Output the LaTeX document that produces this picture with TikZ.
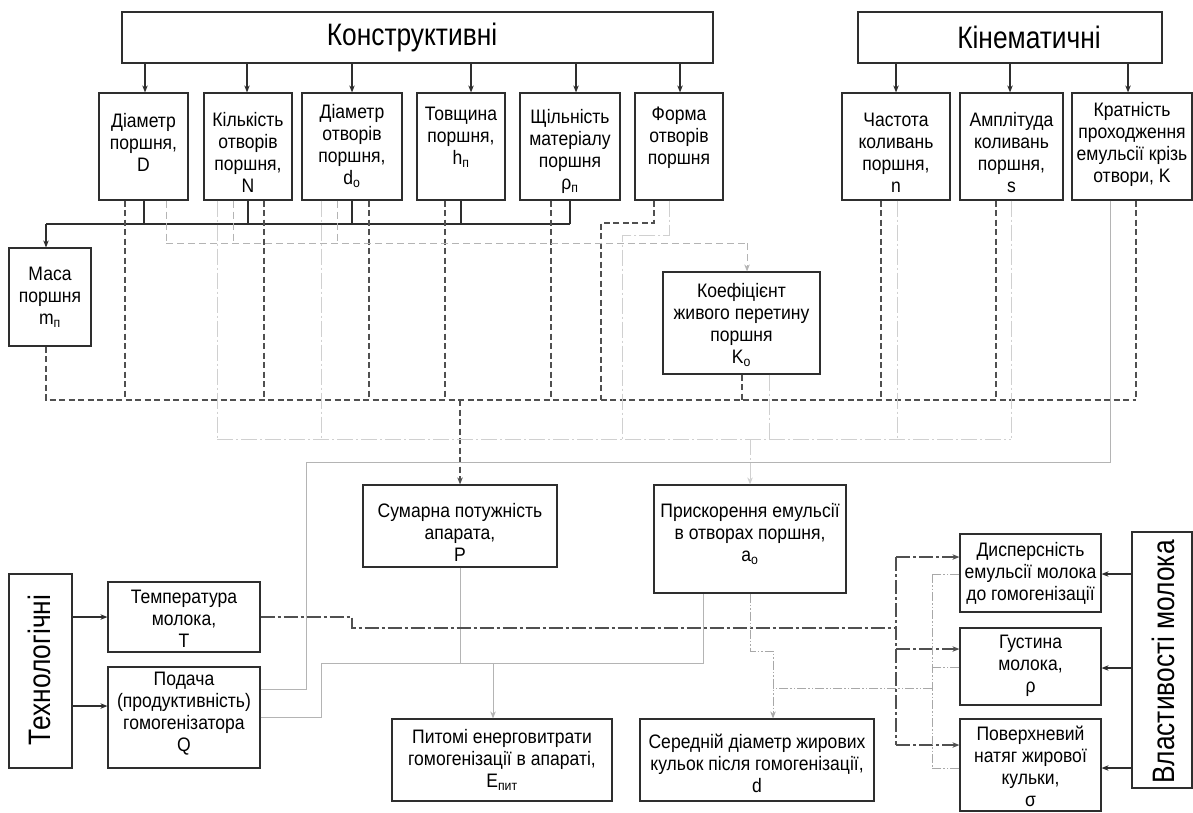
\documentclass[tikz,border=0pt]{standalone}
\usepackage{fontspec}
\setmainfont{Liberation Sans}[FakeStretch=0.85]
\newfontfamily\bodyfam{Liberation Sans}[FakeStretch=0.9]
\usetikzlibrary{arrows.meta,calc}
\definecolor{boxc}{HTML}{2E2E2E}
\definecolor{dashc}{HTML}{505050}
\definecolor{lightc}{HTML}{B4B4B4}
\definecolor{paledc}{HTML}{D0D0D0}
\definecolor{ddc}{HTML}{A8A8A8}
\newcommand{\fBody}{\bodyfam\fontsize{19.5}{22}\selectfont}
\newcommand{\fHead}{\fontsize{31}{34}\selectfont}
\newcommand{\mkbox}[7]{%
 \pgfmathsetmacro{\mbW}{#4-#2}%
 \pgfmathsetmacro{\mbH}{#5-#3}%
 \pgfmathsetmacro{\mbX}{(#2+#4)/2}%
 \pgfmathsetmacro{\mbY}{(#3+#5)/2}%
 \node[box, minimum width=\mbW pt, minimum height=\mbH pt] (#1) at (\mbX,\mbY) {};%
 \node[lbl] (#1t) at (\mbX,#6) {#7};%
}
\tikzset{
 box/.style={draw=boxc, line width=1.2pt, rectangle, inner sep=0pt, fill=white},
 lbl/.style={font=\fBody, align=center, inner sep=0pt, text=black},
 arr/.style={-{Stealth[length=7pt,width=5.5pt]}},
 ln/.style={draw=boxc, line width=1.1pt},
 dashd/.style={draw=dashc, line width=1.4pt, dash pattern=on 6pt off 3.5pt},
 dashl/.style={draw=lightc, line width=0.9pt, dash pattern=on 7pt off 4pt},
 dotl/.style={draw=paledc, line width=0.9pt, dash pattern=on 16pt off 3pt on 2pt off 3pt},
 solidl/.style={draw=lightc, line width=1pt},
 dashdotd/.style={draw=dashc, line width=1.2pt, dash pattern=on 14pt off 3pt on 3pt off 3pt},
 ddotl/.style={draw=ddc, line width=0.8pt, dash pattern=on 9pt off 2pt on 1.5pt off 2pt on 1.5pt off 2pt},
}
\begin{document}
\begin{tikzpicture}[x=1pt,y=-1pt]
\useasboundingbox (0,0) rectangle (1193,812);
\fill[white] (0,0) rectangle (1193,812);

% ---------- coordinates of bus lines ----------
\coordinate (yM) at (0,224);
\coordinate (yP) at (0,400);
\coordinate (yK) at (0,243);
\coordinate (yA) at (0,439);
\coordinate (yF1) at (0,223);
\coordinate (yF2) at (0,235);
\coordinate (xF1) at (601,0);
\coordinate (xF2) at (622,0);
\coordinate (yQ) at (0,462);
\coordinate (xQ1) at (306,0);
\coordinate (xQ2) at (321,0);
\coordinate (yE) at (0,663);
\coordinate (xT) at (352,0);
\coordinate (yT) at (0,628);
\coordinate (xTv) at (896,0);
\coordinate (yd1) at (0,651);
\coordinate (xdv) at (932,0);
\coordinate (yd2) at (0,688);

% ---------- headers ----------
\node[box, minimum width=591pt, minimum height=51pt] (kon) at (417.5,37.5) {};
\node[lbl, font=\fHead] (kont) at (412,37) {Конструктивні};
\node[box, minimum width=304pt, minimum height=51pt] (kin) at (1010,37.5) {};
\node[lbl, font=\fHead] (kint) at (1029,37) {Кінематичні};

% ---------- row 1 ----------
\mkbox{dD}{99}{93}{188}{200}{142}{Діаметр\\поршня,\\D}
\mkbox{nN}{204}{93}{292}{200}{152}{Кількість\\отворів\\поршня,\\N}
\mkbox{dO}{302}{93}{402}{200}{146}{Діаметр\\отворів\\поршня,\\d\textsubscript{о}}
\mkbox{hP}{417}{93}{505}{200}{137}{Товщина\\поршня,\\h\textsubscript{п}}
\mkbox{rho}{520}{93}{620}{200}{151}{Щільність\\матеріалу\\поршня\\ρ\textsubscript{п}}
\mkbox{form}{635}{93}{723}{200}{138}{Форма\\отворів\\поршня}
\mkbox{freq}{842}{93}{950}{200}{153}{Частота\\коливань\\поршня,\\n}
\mkbox{amp}{960}{93}{1063}{200}{153}{Амплітуда\\коливань\\поршня,\\s}
\mkbox{krat}{1072}{93}{1192}{200}{144}{Кратність\\проходження\\емульсії крізь\\отвори, K}

% ---------- middle ----------
\mkbox{masa}{9}{248}{91}{346}{297}{Маса\\поршня\\m\textsubscript{п}}
\mkbox{koef}{663}{272}{820}{374}{325}{Коефіцієнт\\живого перетину\\поршня\\K\textsubscript{о}}
\mkbox{sum}{363}{485}{557}{567}{532}{Сумарна потужність\\апарата,\\P}
\mkbox{pris}{654}{485}{846}{593}{534}{Прискорення емульсії\\в отворах поршня,\\a\textsubscript{о}}

% ---------- bottom ----------
\node[box, minimum width=63pt, minimum height=194pt] (tech) at (40.5,671) {};
\node[lbl, font=\fHead, rotate=90] (techt) at (39,670) {Технологічні};
\mkbox{temp}{108}{582}{260}{652}{619}{Температура\\молока,\\T}
\mkbox{pod}{108}{667}{260}{768}{714}{Подача\\(продуктивність)\\гомогенізатора\\Q}
\mkbox{pit}{392}{719}{612}{801}{760}{Питомі енерговитрати\\гомогенізації в апараті,\\E\textsubscript{пит}}
\mkbox{ser}{640}{719}{874}{801}{763}{Середній діаметр жирових\\кульок після гомогенізації,\\d}
\mkbox{disp}{960}{534}{1101}{612}{573}{Дисперсність\\емульсії молока\\до гомогенізації}
\mkbox{gust}{960}{628}{1101}{705}{666}{Густина\\молока,\\ρ}
\mkbox{pov}{960}{719}{1101}{811}{766}{Поверхневий\\натяг жирової\\кульки,\\σ}
\node[box, minimum width=60pt, minimum height=256pt] (vl) at (1162,660) {};
\node[lbl, font=\fHead, rotate=90] (vlt) at (1163,662) {Властивості молока};

% ---------- header arrows ----------
\foreach \n/\d in {dD/1.5,nN/-1,dO/0,hP/10,rho/6,form/1}{
  \coordinate (h-\n) at ($(\n.north)+(\d,0)$);
  \draw[ln,arr] (h-\n |- kon.south) -- (h-\n);
}
\foreach \n/\d in {freq/0,amp/-1.5,krat/-4}{
  \coordinate (h-\n) at ($(\n.north)+(\d,0)$);
  \draw[ln,arr] (h-\n |- kin.south) -- (h-\n);
}

% ---------- solid: to mass ----------
\foreach \n/\d in {dD/0.5,nN/0,dO/0,hP/0,rho/0}{
  \coordinate (m-\n) at ($(\n.south)+(\d,0)$);
  \draw[ln] (m-\n) -- (m-\n |- yM);
}
\coordinate (m-in) at ($(masa.north)+(-4,0)$);
\draw[ln] (m-rho |- yM) -- (m-in |- yM);
\draw[ln,arr] (m-in |- yM) -- (m-in);

% ---------- dark dashed: to P ----------
\coordinate (p-masa) at ($(masa.south)+(-4,0)$);
\foreach \n/\d in {dD/-18.5,nN/16,dO/17,hP/-16,rho/-19,koef/0.5,freq/-15,amp/-15.5,krat/4}{
  \coordinate (p-\n) at ($(\n.south)+(\d,0)$);
  \draw[dashd] (p-\n) -- (p-\n |- yP);
}
\draw[dashd] (p-masa) -- (p-masa |- yP) -- (p-krat |- yP);
\coordinate (p-form) at ($(form.south)+(-25,0)$);
\draw[dashd] (p-form) -- (p-form |- yF1) -- (xF1 |- yF1) -- (xF1 |- yP);
\draw[dashd,arr] (sum.north |- yP) -- (sum.north);

% ---------- light dashed: to K_o ----------
\foreach \n/\d in {dD/22.5,nN/-15,dO/-15}{
  \coordinate (k-\n) at ($(\n.south)+(\d,0)$);
  \draw[dashl] (k-\n) -- (k-\n |- yK);
}
\coordinate (k-in) at ($(koef.north)+(5.5,0)$);
\draw[dashl] (k-dD |- yK) -- (k-in |- yK);
\draw[dashl,arr] (k-in |- yK) -- (k-in);

% ---------- light dash-dot: to a_o ----------
\foreach \n/\d in {nN/-31,dO/-31,koef/27.5,freq/1,amp/-0.5}{
  \coordinate (a-\n) at ($(\n.south)+(\d,0)$);
  \draw[dotl] (a-\n) -- (a-\n |- yA);
}
\coordinate (a-form) at ($(form.south)+(-10,0)$);
\draw[dotl] (a-form) -- (a-form |- yF2) -- (xF2 |- yF2) -- (xF2 |- yA);
\draw[dotl] (a-nN |- yA) -- (a-amp |- yA);
\draw[dotl,arr] (pris.north |- yA) -- (pris.north);

% ---------- light solid: to E ----------
\coordinate (q-krat) at ($(krat.south)+(-22,0)$);
\coordinate (q-pod) at ($(pod.east)+(0,-28.5)$);
\draw[solidl] (q-krat) -- (q-krat |- yQ) -- (xQ1 |- yQ) -- (xQ1 |- q-pod) -- (q-pod);
\coordinate (q-pris) at ($(pris.south)+(-47,0)$);
\draw[solidl] (pod.east) -- (xQ2 |- pod.east) -- (xQ2 |- yE) -- (q-pris |- yE) -- (q-pris);
\draw[solidl] (sum.south) -- (sum.south |- yE);
\coordinate (e-in) at ($(pit.north)+(-9,0)$);
\draw[solidl,arr] (e-in |- yE) -- (e-in);

% ---------- dark dash-dot: temperature ----------
\draw[dashdotd] (temp.east) -- (xT |- temp.east) -- (xT |- yT) -- (xTv |- yT);
\coordinate (t-disp) at ($(disp.west)+(0,-16)$);
\coordinate (t-gust) at ($(gust.west)+(0,-17.5)$);
\coordinate (t-pov) at ($(pov.west)+(0,-20)$);
\draw[dashdotd] (xTv |- t-disp) -- (xTv |- t-pov);
\foreach \n in {disp,gust,pov}{
  \draw[dashdotd,arr] (xTv |- t-\n) -- (t-\n);
}

% ---------- light dash-dot-dot: to d ----------
\coordinate (s-in) at ($(ser.north)+(16,0)$);
\draw[ddotl,arr] (pris.south) -- (pris.south |- yd1) -- (s-in |- yd1) -- (s-in);
\coordinate (s-disp) at ($(disp.west)+(0,1)$);
\coordinate (s-gust) at ($(gust.west)+(0,0.5)$);
\coordinate (s-pov) at ($(pov.west)+(0,3)$);
\foreach \n in {disp,gust,pov}{
  \draw[ddotl] (s-\n) -- (xdv |- s-\n);
}
\draw[ddotl] (xdv |- s-disp) -- (xdv |- s-pov);
\draw[ddotl] (xdv |- yd2) -- (s-in |- yd2);

% ---------- milk properties arrows ----------
\foreach \n/\d in {disp/1,gust/1.5,pov/3}{
  \coordinate (v-\n) at ($(\n.east)+(0,\d)$);
  \draw[ln,arr] (vl.west |- v-\n) -- (v-\n);
}

% ---------- technological arrows ----------
\draw[ln,arr] (tech.east |- temp.west) -- (temp.west);
\coordinate (tq) at ($(pod.west)+(0,-11.5)$);
\draw[ln,arr] (tech.east |- tq) -- (tq);
\end{tikzpicture}
\end{document}
